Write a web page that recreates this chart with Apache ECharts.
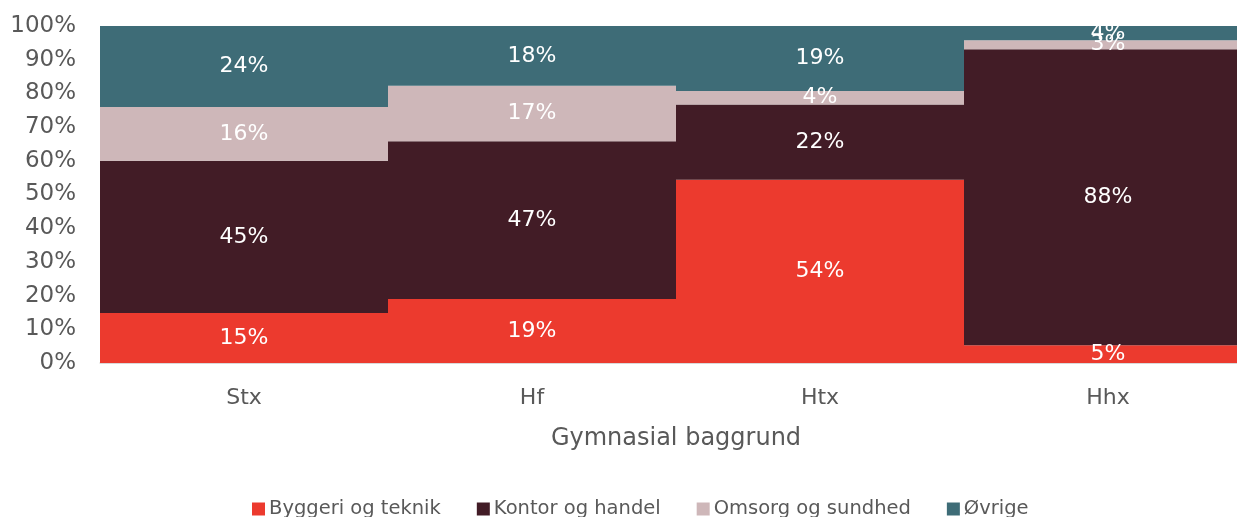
<!DOCTYPE html>
<html>
<head>
<meta charset="utf-8">
<script src="https://cdn.jsdelivr.net/npm/echarts@6/dist/echarts.min.js"></script>
<style>
  html, body { margin: 0; padding: 0; background: #fff; overflow: hidden; }
  /* the plot runs a little past the right edge of the window, as in the original */
  #chart { width: 1252px; height: 517px; }
</style>
</head>
<body>
<div id="chart"></div>
<script>
// kategorier og andele (%)
var categories = ['Stx', 'Hf', 'Htx', 'Hhx'];
var byggeri = [14.8, 19.0, 54.4, 5.3];
var kontor = [45.2, 46.8, 22.3, 87.8];
var omsorg = [16.0, 16.5, 4.0, 2.7];
var ovrige = [24.0, 17.7, 19.3, 4.2];

var yTicks = [0, 10, 20, 30, 40, 50, 60, 70, 80, 90, 100];

var font = 'DejaVu Sans';

function makeSeries(name, data, color) {
    return {
        name: name,
        type: 'bar',
        stack: 'total',
        barCategoryGap: '0%',
        data: data,
        itemStyle: { color: color },
        label: {
            show: true,
            position: 'inside',
            color: '#fff',
            fontSize: 22,
            fontFamily: font,
            formatter: function (p) { return Math.round(p.value) + '%'; }
        }
    };
}

var myChart = echarts.init(document.getElementById('chart'));
myChart.setOption({
    animation: false,
    textStyle: { fontFamily: font },
    grid: { left: 100, top: 26, right: 0, height: 337 },
    legend: {
        left: 247,
        top: 494,
        itemWidth: 13,
        itemHeight: 13,
        itemGap: 36,
        icon: 'rect',
        textStyle: { color: '#595959', fontSize: 19.5, fontFamily: font, padding: [0, 0, 0, -1] },
        data: ['Byggeri og teknik', 'Kontor og handel', 'Omsorg og sundhed', 'Øvrige']
    },
    xAxis: {
        type: 'category',
        data: categories,
        name: 'Gymnasial baggrund',
        nameLocation: 'middle',
        nameGap: 64,
        nameTextStyle: { color: '#595959', fontSize: 24, fontFamily: font },
        axisTick: { show: false },
        axisLine: { lineStyle: { color: '#d9d9d9', width: 1.5 } },
        axisLabel: { color: '#595959', fontSize: 22, margin: 24, fontFamily: font }
    },
    yAxis: {
        type: 'value',
        min: yTicks[0],
        max: yTicks[yTicks.length - 1],
        interval: 10,
        axisLine: { show: false },
        axisTick: { show: false },
        splitLine: { lineStyle: { color: '#d9d9d9' } },
        axisLabel: {
            color: '#595959', fontSize: 23, margin: 24, fontFamily: font,
            padding: [8, 0, 0, 0],
            formatter: '{value}%'
        }
    },
    series: [
        makeSeries('Byggeri og teknik', byggeri, '#ec3a2e'),
        makeSeries('Kontor og handel', kontor, '#421c26'),
        makeSeries('Omsorg og sundhed', omsorg, '#ceb7b9'),
        makeSeries('Øvrige', ovrige, '#3e6c77')
    ]
});
</script>
</body>
</html>
